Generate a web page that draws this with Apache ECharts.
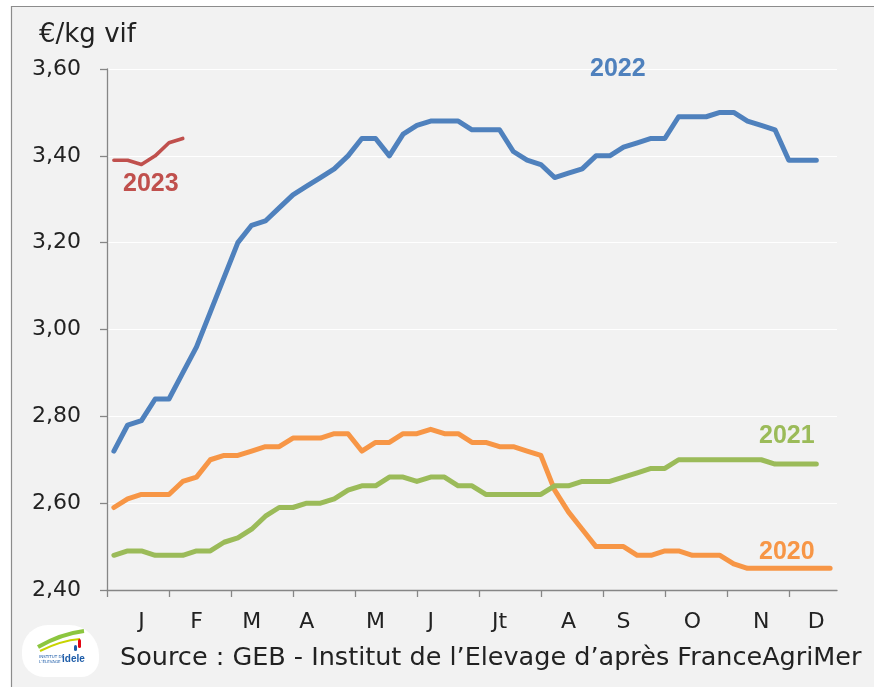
<!DOCTYPE html>
<html>
<head>
<meta charset="utf-8">
<script src="https://cdn.jsdelivr.net/npm/echarts@6/dist/echarts.min.js"></script>
<style>
  html, body { margin: 0; padding: 0; background: #fff; }
  #chart { width: 874px; height: 687px; }
</style>
</head>
<body>
<div id="chart"></div>
<script>
// semaines 1..53
const weeks = Array.from({ length: 53 }, (_, i) => 'S' + (i + 1))

// libellés des mois et semaine où ils sont posés
const monthLabels = ['J', 'F', 'M', 'A', 'M', 'J', 'Jt', 'A', 'S', 'O', 'N', 'D']
const monthWeeks = [2, 6, 10, 14, 19, 23, 28, 33, 37, 42, 47, 51]
// graduations de l'axe des X (en semaines)
const tickWeeks = [0, 4.5, 9, 13.5, 18, 22.5, 27, 31.5, 36, 40.5, 45, 49.5]

const prix2020 = [
  2.59, 2.61, 2.62, 2.62, 2.62, 2.65, 2.66, 2.70, 2.71, 2.71,
  2.72, 2.73, 2.73, 2.75, 2.75, 2.75, 2.76, 2.76, 2.72, 2.74,
  2.74, 2.76, 2.76, 2.77, 2.76, 2.76, 2.74, 2.74, 2.73, 2.73,
  2.72, 2.71, 2.63, 2.58, 2.54, 2.50, 2.50, 2.50, 2.48, 2.48,
  2.49, 2.49, 2.48, 2.48, 2.48, 2.46, 2.45, 2.45, 2.45, 2.45,
  2.45, 2.45, 2.45
]
const prix2021 = [
  2.48, 2.49, 2.49, 2.48, 2.48, 2.48, 2.49, 2.49, 2.51, 2.52,
  2.54, 2.57, 2.59, 2.59, 2.60, 2.60, 2.61, 2.63, 2.64, 2.64,
  2.66, 2.66, 2.65, 2.66, 2.66, 2.64, 2.64, 2.62, 2.62, 2.62,
  2.62, 2.62, 2.64, 2.64, 2.65, 2.65, 2.65, 2.66, 2.67, 2.68,
  2.68, 2.70, 2.70, 2.70, 2.70, 2.70, 2.70, 2.70, 2.69, 2.69,
  2.69, 2.69
]
const prix2022 = [
  2.72, 2.78, 2.79, 2.84, 2.84, 2.90, 2.96, 3.04, 3.12, 3.20,
  3.24, 3.25, 3.28, 3.31, 3.33, 3.35, 3.37, 3.40, 3.44, 3.44,
  3.40, 3.45, 3.47, 3.48, 3.48, 3.48, 3.46, 3.46, 3.46, 3.41,
  3.39, 3.38, 3.35, 3.36, 3.37, 3.40, 3.40, 3.42, 3.43, 3.44,
  3.44, 3.49, 3.49, 3.49, 3.50, 3.50, 3.48, 3.47, 3.46, 3.39,
  3.39, 3.39
]
const prix2023 = [3.39, 3.39, 3.38, 3.40, 3.43, 3.44]

const COLORS = { y2020: '#f79646', y2021: '#9bbb59', y2022: '#4f81bd', y2023: '#c0504d' }
const FONT = 'DejaVu Sans'
const BOLD_FONT = 'Liberation Sans'

const chart = echarts.init(document.getElementById('chart'), null, { renderer: 'canvas' })

function lineSeries(name, data, color, width) {
  return {
    name,
    type: 'line',
    xAxisIndex: 0,
    data,
    showSymbol: false,
    symbol: 'none',
    silent: true,
    lineStyle: { color, width, cap: 'round', join: 'round' },
    z: 3
  }
}

function yearLabel(text, x, y, color) {
  return {
    type: 'text',
    left: x,
    top: y,
    z: 10,
    style: { text, fill: color, font: 'bold 25px "' + BOLD_FONT + '"' }
  }
}

const option = {
  backgroundColor: '#ffffff',
  animation: false,
  grid: { left: 107, right: 37, top: 69, bottom: 97, containLabel: false },
  xAxis: [
    {
      type: 'category',
      data: weeks,
      boundaryGap: true,
      axisLine: { show: false },
      axisTick: { show: false },
      splitLine: { show: false },
      axisLabel: {
        interval: 0,
        margin: 21,
        fontSize: 22,
        fontFamily: FONT,
        color: '#222',
        formatter: (val, idx) => {
          const k = monthWeeks.indexOf(idx)
          return k >= 0 ? monthLabels[k] : ''
        }
      }
    },
    {
      type: 'value',
      position: 'bottom',
      min: 0,
      max: 53,
      axisLine: { show: true, onZero: false, lineStyle: { color: '#868686', width: 1.3 } },
      axisTick: { show: true, length: 7, customValues: tickWeeks, lineStyle: { color: '#868686', width: 1.3 } },
      axisLabel: { show: false },
      splitLine: { show: false }
    }
  ],
  yAxis: {
    type: 'value',
    min: 2.4,
    max: 3.6,
    interval: 0.2,
    axisLine: { show: true, lineStyle: { color: '#868686', width: 1.3 } },
    axisTick: { show: true, length: 7, lineStyle: { color: '#868686', width: 1.3 } },
    splitLine: { show: true, lineStyle: { color: '#ffffff', width: 1.2 } },
    axisLabel: {
      margin: 26,
      fontSize: 22,
      fontFamily: FONT,
      color: '#222',
      formatter: v => v.toFixed(2).replace('.', ',')
    }
  },
  series: [
    lineSeries('2020', prix2020, COLORS.y2020, 5),
    lineSeries('2021', prix2021, COLORS.y2021, 5),
    lineSeries('2022', prix2022, COLORS.y2022, 5),
    lineSeries('2023', prix2023, COLORS.y2023, 3.6)
  ],
  graphic: [
    // fond du cadre
    {
      type: 'rect',
      z: -10,
      silent: true,
      shape: { x: 11.5, y: 6.5, width: 900, height: 700 },
      style: { fill: '#f2f2f2', stroke: '#8c8c8c', lineWidth: 1.2 }
    },
    {
      type: 'text',
      left: 39,
      top: 22,
      z: 10,
      style: { text: '€/kg vif', fill: '#222', font: '26px "' + FONT + '"' }
    },
    yearLabel('2022', 590, 57, COLORS.y2022),
    yearLabel('2023', 123, 172, COLORS.y2023),
    yearLabel('2021', 759, 424, COLORS.y2021),
    yearLabel('2020', 759, 540, COLORS.y2020),
    {
      type: 'text',
      left: 120,
      top: 645,
      z: 10,
      style: {
        text: 'Source : GEB - Institut de l\u2019Elevage d\u2019après FranceAgriMer',
        fill: '#222',
        font: '25.5px "' + FONT + '"'
      }
    },
    // logo idele (approximation)
    {
      type: 'group',
      left: 22,
      top: 625,
      z: 10,
      children: [
        {
          type: 'rect',
          shape: { x: 0, y: 0, width: 77, height: 52, r: [26, 30, 18, 22] },
          style: { fill: '#ffffff' }
        },
        {
          type: 'bezierCurve',
          shape: { x1: 16, y1: 22, x2: 62, y2: 6, cpx1: 30, cpy1: 14, cpx2: 46, cpy2: 8 },
          style: { stroke: '#8cc63f', lineWidth: 4, fill: 'none' }
        },
        {
          type: 'bezierCurve',
          shape: { x1: 18, y1: 26, x2: 58, y2: 14, cpx1: 32, cpy1: 19, cpx2: 46, cpy2: 15 },
          style: { stroke: '#c8d400', lineWidth: 2, fill: 'none' }
        },
        {
          type: 'rect',
          shape: { x: 56, y: 14, width: 3, height: 9, r: 1.5 },
          style: { fill: '#e30613' }
        },
        {
          type: 'rect',
          shape: { x: 52, y: 20, width: 3, height: 6, r: 1.5 },
          style: { fill: '#1d5ca8' }
        },
        {
          type: 'text',
          x: 17,
          y: 29,
          style: { text: 'INSTITUT DE\nL\u2019ÉLEVAGE', fill: '#1d5ca8', font: '4px "' + FONT + '"', lineHeight: 5 }
        },
        {
          type: 'text',
          x: 40,
          y: 29,
          style: { text: 'idele', fill: '#1d5ca8', font: 'bold 10px "' + BOLD_FONT + '"' }
        }
      ]
    }
  ]
}

chart.setOption(option)
</script>
</body>
</html>
